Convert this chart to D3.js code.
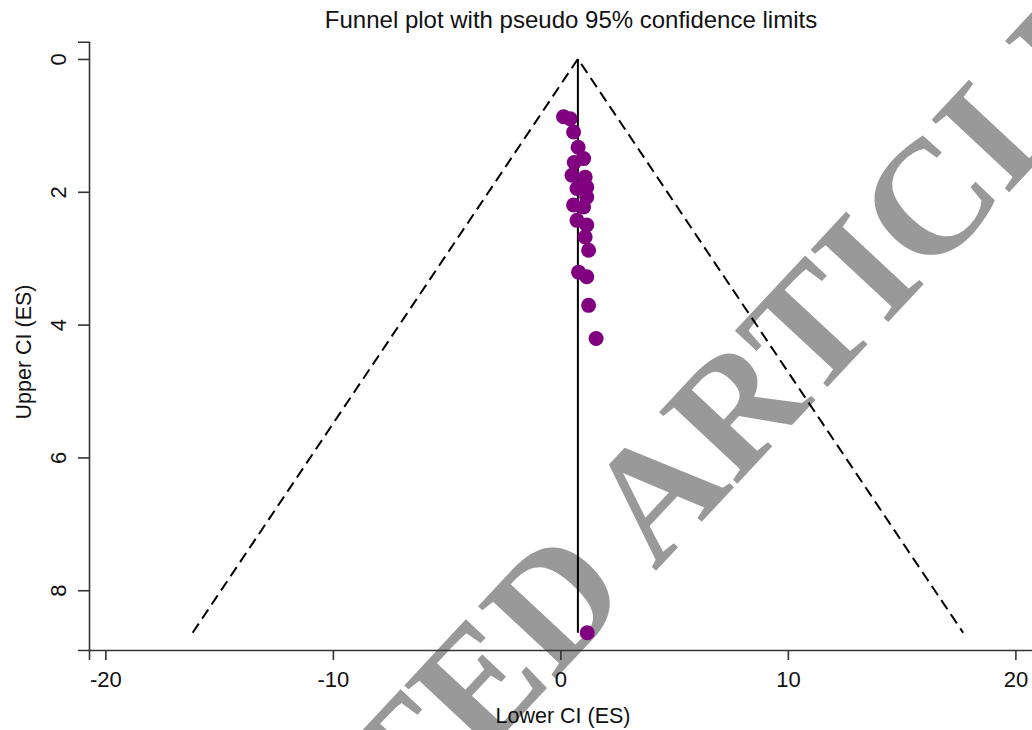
<!DOCTYPE html>
<html>
<head>
<meta charset="utf-8">
<script src="https://cdn.jsdelivr.net/npm/d3@7"></script>
<style>
  body { margin: 0; background: #fff; }
  svg text { font-family: "Liberation Sans", Arial, sans-serif; }
</style>
</head>
<body>
<svg id="chart" width="1032" height="730"></svg>
<script>
// study effect sizes and their standard errors
var effectSize = [0.14, 0.43, 0.58, 0.78, 1.02, 0.61, 0.51, 1.09, 1.16, 0.73, 1.16,
                  0.58, 1.02, 0.73, 1.16, 1.09, 1.24, 0.80, 1.16, 1.24, 1.57, 1.18];
var stdError   = [0.87, 0.90, 1.10, 1.33, 1.50, 1.56, 1.75, 1.78, 1.93, 1.95, 2.08,
                  2.20, 2.23, 2.43, 2.50, 2.68, 2.88, 3.21, 3.28, 3.71, 4.21, 8.64];
var pooled = 0.77;
var xTicks = [-20, -10, 0, 10, 20];
var yTicks = [0, 2, 4, 6, 8];

var svg = d3.select('#chart');

var x = d3.scaleLinear().domain([-20.72, 21.5]).range([89, 1049.5]);
var y = d3.scaleLinear().domain([-0.26, 8.9]).range([41.7, 650]);

// watermark sits under the plot
var wm = svg.append('text')
    .text('RETRACTED ARTICLE')
    .style('font-family', '"Liberation Serif", "Times New Roman", serif')
    .style('font-weight', 'bold')
    .style('font-size', '162px')
    .style('fill', '#999999');
var off = wm.node().getSubStringLength(0, 10);
wm.attr('x', -off)
  .attr('transform', 'translate(' + [655, 572] + ') rotate(-47)');

// title
svg.append('text')
    .attr('x', 571).attr('y', 28)
    .style('font-size', '24px')
    .style('text-anchor', 'middle')
    .style('fill', '#111')
    .text('Funnel plot with pseudo 95% confidence limits');

// axes
var xAxis = svg.append('g')
    .attr('transform', 'translate(0,' + 650 + ')')
    .call(d3.axisBottom(x).tickValues(xTicks).tickSizeOuter(0).tickSize(10)
        .tickFormat(function (d) { return String(d); }));
xAxis.selectAll('text')
    .attr('dy', null).attr('y', 37)
    .style('font-size', '22px').style('fill', '#111');

var yAxis = svg.append('g')
    .attr('transform', 'translate(' + 89 + ',0)')
    .call(d3.axisLeft(y).tickValues(yTicks).tickSizeOuter(0).tickSize(11)
        .tickFormat(function (d) { return String(d); }));
yAxis.selectAll('text')
    .attr('x', null).attr('dy', null)
    .attr('transform', 'translate(-29,0) rotate(-90)')
    .style('text-anchor', 'middle')
    .attr('dominant-baseline', 'middle')
    .style('font-size', '22px').style('fill', '#111');

svg.selectAll('.domain, .tick line')
    .style('stroke', '#333').style('stroke-width', 1.6);

svg.append('text')
    .attr('transform', 'translate(' + [25, 352] + ') rotate(-90)')
    .style('text-anchor', 'middle')
    .attr('dominant-baseline', 'middle')
    .style('font-size', '21.5px').style('fill', '#111')
    .text('Upper CI (ES)');

svg.append('text')
    .attr('x', 563).attr('y', 723)
    .style('text-anchor', 'middle')
    .style('font-size', '21.5px').style('fill', '#111')
    .text('Lower CI (ES)');

// pseudo 95% limits
var maxSE = d3.max(stdError);
var funnel = [[pooled - 1.96 * maxSE, maxSE], [pooled, 0], [pooled + 1.96 * maxSE, maxSE]];
svg.append('path')
    .attr('d', d3.line().x(function (d) { return x(d[0]); }).y(function (d) { return y(d[1]); })(funnel))
    .style('fill', 'none').style('stroke', '#000')
    .style('stroke-width', 2).style('stroke-dasharray', '11,6');

svg.append('line')
    .attr('x1', x(pooled)).attr('x2', x(pooled))
    .attr('y1', y(0)).attr('y2', y(maxSE))
    .style('stroke', '#000').style('stroke-width', 2);

svg.selectAll('.study')
    .data(effectSize)
    .enter()
    .append('circle')
    .attr('class', 'study')
    .attr('cx', function (d) { return x(d); })
    .attr('cy', function (d, i) { return y(stdError[i]); })
    .attr('r', 7.5)
    .style('fill', '#800080');
</script>
</body>
</html>
